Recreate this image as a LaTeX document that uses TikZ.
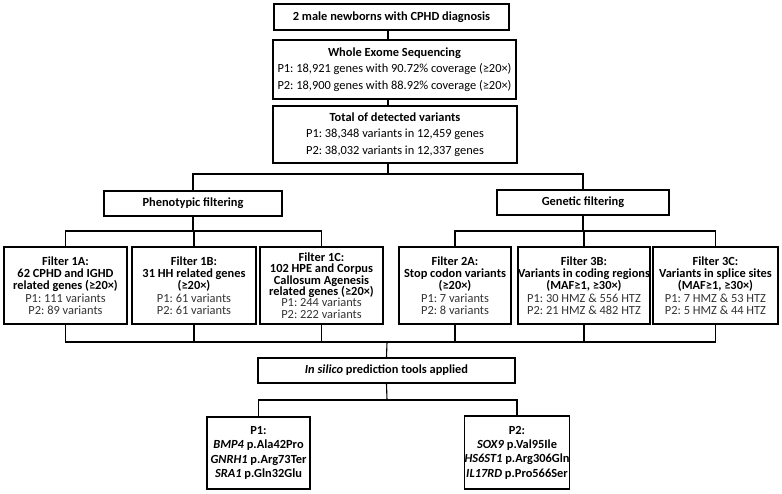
\documentclass[tikz,border=0pt]{standalone}
\usepackage{fontspec}
\setmainfont{Carlito}
\frenchspacing
\def\pp#1{\textcolor{black!80}{#1}}

\begin{document}
\begin{tikzpicture}[x=1pt,y=-1pt,line width=1.1pt,
	box/.style={draw,line width=1.3pt,rectangle,inner sep=0pt,align=center,
		font=\fontsize{12.4}{12.3}\selectfont},
	roomy/.style={box,font=\fontsize{12.4}{16.5}\selectfont},
	filt/.style={box,minimum height=77pt}]
\useasboundingbox (0,0) rectangle (782,494);

% top chain
\node[box,minimum width=235pt,minimum height=26pt] (top) at (391.5,17)
	{\bfseries 2 male newborns with CPHD diagnosis};
\node[roomy,minimum width=243pt,minimum height=59pt] (wes) at (394.5,69.5)
	{\textbf{Whole Exome Sequencing}\\ P1: 18,921 genes with 90.72\% coverage (≥20×)\\ P2: 18,900 genes with 88.92\% coverage (≥20×)};
\node[roomy,minimum width=244pt,minimum height=57pt] (total) at (395,134.5)
	{\textbf{Total of detected variants}\\ P1: 38,348 variants in 12,459 genes\\ P2: 38,032 variants in 12,337 genes};

% two branches
\node[box,minimum width=178pt,minimum height=25pt] (pheno) at (193,203.5) {\bfseries Phenotypic filtering};
\node[box,minimum width=172pt,minimum height=25pt] (gen) at (583,202.5) {\bfseries Genetic filtering};

\node[filt,minimum width=123pt] (f1a) at (65.5,285.5)
	{\bfseries Filter 1A:\\ \bfseries 62 CPHD and IGHD\\ \bfseries related genes (≥20×)\\ \pp{P1: 111 variants}\\ \pp{P2: 89 variants}};
\node[filt,minimum width=124pt] (f1b) at (194,285.5)
	{\bfseries Filter 1B:\\ \bfseries 31 HH related genes\\ \bfseries (≥20×)\\ \pp{P1: 61 variants}\\ \pp{P2: 61 variants}};
\node[filt,minimum width=123pt,font=\fontsize{12.4}{11.4}\selectfont] (f1c) at (321.5,285.5)
	{\bfseries Filter 1C:\\ \bfseries 102 HPE and Corpus\\ \bfseries Callosum Agenesis\\ \bfseries related genes (≥20×)\\ \pp{P1: 244 variants}\\ \pp{P2: 222 variants}};
\node[filt,minimum width=112pt] (f2a) at (455,285.5)
	{\bfseries Filter 2A:\\ \bfseries Stop codon variants\\ \bfseries (≥20×)\\ \pp{P1: 7 variants}\\ \pp{P2: 8 variants}};
\node[filt,minimum width=130pt] (f3b) at (584,285.5)
	{\bfseries Filter 3B:\\ \bfseries Variants in coding regions\\ \bfseries (MAF≥1, ≥30×)\\ \pp{P1: 30 HMZ \& 556 HTZ}\\ \pp{P2: 21 HMZ \& 482 HTZ}};
\node[filt,minimum width=125pt] (f3c) at (715.5,285.5)
	{\bfseries Filter 3C:\\ \bfseries Variants in splice sites\\ \bfseries (MAF≥1, ≥30×)\\ \pp{P1: 7 HMZ \& 53 HTZ}\\ \pp{P2: 5 HMZ \& 44 HTZ}};

% prediction and results
\node[box,minimum width=257pt,minimum height=25pt] (silico) at (386.5,370.5)
	{\bfseries\textit{In silico} prediction tools applied};
\node[box,minimum width=103pt,minimum height=72pt,font=\fontsize{12.4}{14.3}\selectfont] (p1) at (258.5,453)
	{\bfseries P1:\\ \bfseries\textit{BMP4} p.Ala42Pro\\ \bfseries\textit{GNRH1} p.Arg73Ter\\ \bfseries\textit{SRA1} p.Gln32Glu};
\node[box,minimum width=102pt,minimum height=73pt,font=\fontsize{12.4}{14.3}\selectfont] (p2) at (517,452.5)
	{\bfseries P2:\\ \bfseries\textit{SOX9} p.Val95Ile\\ \bfseries\textit{HS6ST1} p.Arg306Gln\\ \bfseries\textit{IL17RD} p.Pro566Ser};

% junctions
\coordinate (split) at (388,174);
\coordinate (pj) at (193,231);
\coordinate (gj) at (585,231);
\coordinate (mj) at (387,342);
\coordinate (lj) at (387,400);

\draw (split |- top.south) -- (split |- wes.north);
\draw (split |- wes.south) -- (split |- total.north);
\draw (split |- total.south) -- (split);
\draw (pheno.north) |- (split) -| (gen.north);

\draw (pheno.south) -- (pj);
\draw (f1a.north) |- (pj) -| (f1c.north);
\draw (f1b.north) -- (f1b.north |- pj);
\draw (gen.south) -- (gen.south |- gj);
\draw (f2a.north) |- (gj) -| (f3c.north);
\draw (f3b.north) -- (f3b.north |- gj);

\draw (f1a.south) |- (mj) -| (f3c.south);
\foreach \f in {f1b,f1c,f2a,f3b}{
	\draw (\f.south) -- (\f.south |- mj);
}
\draw (mj) -- (silico.north);
\draw (silico.south) -- (lj);
\draw (p1.north) |- (lj) -| (p2.north);
\end{tikzpicture}
\end{document}
